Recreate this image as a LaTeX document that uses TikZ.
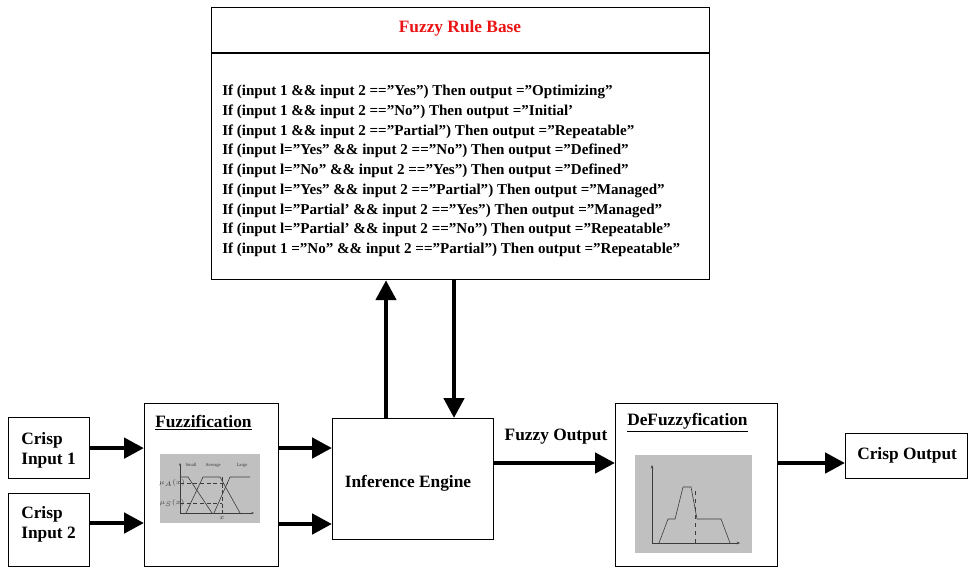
\documentclass[tikz,border=0pt]{standalone}
\usepackage{fontspec}
\setmainfont{Liberation Serif}
\usetikzlibrary{arrows.meta,calc}
\definecolor{gbg}{RGB}{192,192,192}
\definecolor{gln}{RGB}{60,60,60}
\definecolor{titlered}{RGB}{235,20,20}
\begin{document}
\begin{tikzpicture}[x=0.75pt,y=-0.75pt,
  box/.style={draw, line width=0.9pt, inner sep=0pt, anchor=north west},
  big/.style={-{Triangle[length=15pt,width=15pt]}, line width=3.5pt},
  lbl/.style={font=\fontsize{13}{15}\selectfont\bfseries, inner sep=0pt},
  thin/.style={line width=0.45pt, draw=gln},
  tiny/.style={font=\fontsize{3.5}{4}\selectfont, inner sep=0pt, text=gln}]
\useasboundingbox (0,0) rectangle (969,569);

% boxes
\node[box, minimum width=373.5pt, minimum height=204pt] (rb) at (211,7) {};
\node[box, minimum width=60.75pt, minimum height=45.75pt] (crisp1) at (8,417) {};
\node[box, minimum width=60.75pt, minimum height=54.75pt] (crisp2) at (8,493) {};
\node[box, minimum width=100.5pt, minimum height=122.25pt] (fuzz) at (144,403) {};
\node[box, minimum width=120.75pt, minimum height=90.75pt] (ie) at (332,418) {};
\node[box, minimum width=121.5pt, minimum height=122.25pt] (defuzz) at (615,403) {};
\node[box, minimum width=91.5pt, minimum height=33.75pt] (cout) at (845,433) {};

% rule base
\draw[line width=0.9pt] ($(rb.north west)+(0,46)$) coordinate (dv) -- (dv -| rb.east);
\node[lbl, text=titlered] (rbt) at (460,28) {Fuzzy Rule Base};
\node[anchor=west, align=left, inner sep=0pt,
      font=\fontsize{11.3}{14.8}\selectfont\bfseries] (rules) at (222,171) {%
If (input 1 \&\& input 2 ==”Yes”) Then output =”Optimizing”\\
If (input 1 \&\& input 2 ==”No”) Then output =”Initial’\\
If (input 1 \&\& input 2 ==”Partial”) Then output =”Repeatable”\\
If (input l=”Yes” \&\& input 2 ==”No”) Then output =”Defined”\\
If (input l=”No” \&\& input 2 ==”Yes”) Then output =”Defined”\\
If (input l=”Yes” \&\& input 2 ==”Partial”) Then output =”Managed”\\
If (input l=”Partial’ \&\& input 2 ==”Yes”) Then output =”Managed”\\
If (input l=”Partial’ \&\& input 2 ==”No”) Then output =”Repeatable”\\
If (input 1 =”No” \&\& input 2 ==”Partial”) Then output =”Repeatable”};

% labels
\node[lbl, anchor=west, align=left] (c1t) at (21,450) {Crisp\\Input 1};
\node[lbl, anchor=west, align=left] (c2t) at (21,524) {Crisp\\Input 2};
\node[lbl, anchor=west] (ft) at (155,423) {\underline{Fuzzification}};
\node[lbl] (iet) at (408,483) {Inference Engine};
\node[lbl] (fo) at (556,437) {Fuzzy Output};
\node[lbl, anchor=west] (dt) at (627,423) {\underline{DeFuzzyfication}};
\node[lbl, anchor=west] (cot) at (857,455) {Crisp Output};

% connectors
\draw[big] (crisp1.east) -- (crisp1.east -| fuzz.west);
\draw[big] ($(crisp2.north east)+(0,30)$) coordinate (c2a) -- (c2a -| fuzz.west);
\draw[big] ($(fuzz.north east)+(0,45)$) coordinate (f1) -- (f1 -| ie.west);
\draw[big] ($(fuzz.north east)+(0,121)$) coordinate (f2) -- (f2 -| ie.west);
\draw[big] ($(ie.north east)+(0,45)$) coordinate (i1) -- (i1 -| defuzz.west);
\draw[big] ($(defuzz.north east)+(0,60)$) coordinate (d1) -- (d1 -| cout.west);
\coordinate (u1) at ($(ie.north west)+(54,0)$);
\coordinate (u2) at ($(ie.north west)+(122,0)$);
\draw[big] (u1) -- (u1 |- rb.south);
\draw[big] (u2 |- rb.south) -- (u2);

% fuzzification mini chart
\fill[gbg] (160,454) rectangle (260,523);
\draw[thin, -{Stealth[length=2pt,width=1.6pt]}] (180,513) -- (180,463);
\draw[thin, -{Stealth[length=2pt,width=1.6pt]}] (180,513) -- (254,513);
\draw[thin] (180,477) -- (188,477) -- (212,513);
\draw[thin] (186,513) -- (203,477) -- (220,477) -- (240,513);
\draw[thin] (214,513) -- (230,477) -- (250,477);
\draw[thin, densely dashed] (180,483) -- (227,483);
\draw[thin, densely dashed] (180,503) -- (222,503);
\draw[thin, densely dashed] (222,477) -- (222,515);
\node[tiny] at (191,465) {Small};
\node[tiny] at (213,465) {Average};
\node[tiny] at (242,465) {Large};
\node[tiny] at (172,483) {$\mu_A(x)$};
\node[tiny] at (172,503) {$\mu_S(x)$};
\node[tiny] at (222,518) {$x$};

% defuzzification mini chart
\fill[gbg] (635,455) rectangle (752,553);
\draw[thin, -{Stealth[length=2.5pt,width=2pt]}] (652,543) -- (652,465);
\draw[thin, -{Stealth[length=2.5pt,width=2pt]}] (652,543) -- (740,543);
\draw[thin] (659,543) -- (668,519) -- (675,519) -- (683,487) -- (691,487) -- (697,519) -- (721,519) -- (730,543);
\draw[thin, dashed] (695,543) -- (695,490);
\end{tikzpicture}
\end{document}
